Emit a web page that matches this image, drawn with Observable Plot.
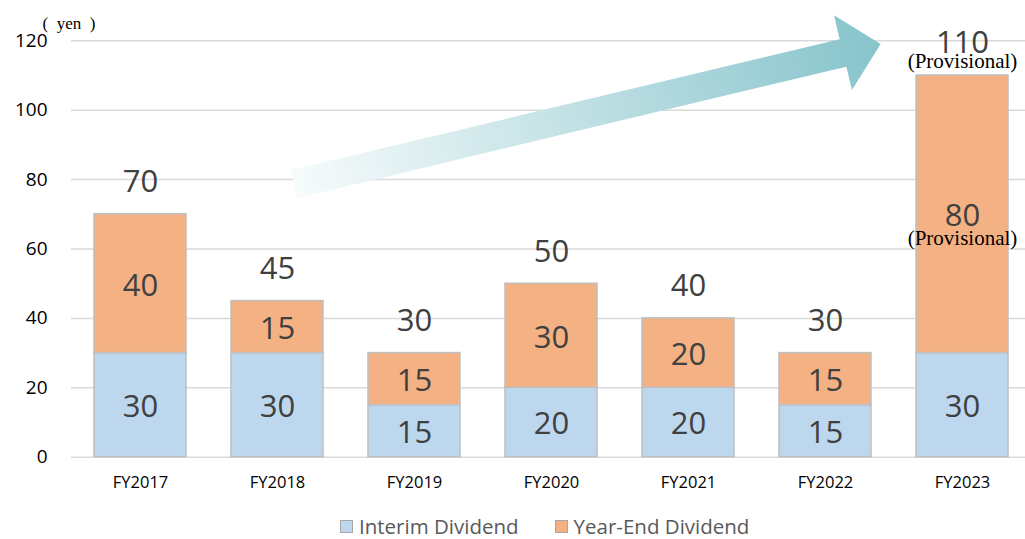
<!DOCTYPE html>
<html>
<head>
<meta charset="utf-8">
<script src="https://cdn.jsdelivr.net/npm/d3@7"></script>
<script src="https://cdn.jsdelivr.net/npm/@observablehq/plot@0.6"></script>
<style>
  body { margin: 0; background: #fff; }
  #wrap { position: relative; width: 1025px; height: 539px; overflow: hidden; }
  #legend { position: absolute; left: 340px; top: 514px; display: flex; align-items: center; line-height: 24px; height: 24px;
    font-family: "Open Sans", sans-serif; font-size: 20.5px; color: #595959; white-space: nowrap; }
  .sw { width: 13px; height: 13px; border: 1px solid #A6A6A6; box-sizing: border-box; margin-right: 6px; }
  .item { display: flex; align-items: center; margin-right: 36px; }
</style>
</head>
<body>
<div id="wrap"></div>
<script>
const years = ["FY2017", "FY2018", "FY2019", "FY2020", "FY2021", "FY2022", "FY2023"];
const interim = [30, 30, 15, 20, 20, 15, 30];
const yearEnd = [40, 15, 15, 30, 20, 15, 80];
const totals = [70, 45, 30, 50, 40, 30, 110];
const seriesNames = ["Interim Dividend", "Year-End Dividend"];
const seriesColors = ["#BDD7EE", "#F4B183"];
const yTicks = [0, 20, 40, 60, 80, 100, 120];
// decorative arrow outline in (band index, yen) units
const arrowPts = [[1.103, 82.6], [5.107, 120.3], [5.066, 127.2], [5.406, 118.9], [5.197, 105.7], [5.156, 112.4], [1.142, 74.5]];

const rows = [];
years.forEach((yr, i) => {
  rows.push({year: yr, series: seriesNames[0], y1: 0, y2: interim[i], mid: interim[i] / 2, v: interim[i]});
});
years.forEach((yr, i) => {
  rows.push({year: yr, series: seriesNames[1], y1: interim[i], y2: interim[i] + yearEnd[i], mid: interim[i] + yearEnd[i] / 2, v: yearEnd[i]});
});
const totRows = years.map((yr, i) => ({year: yr, total: totals[i]}));

const W = 1025, H = 510;
const plot = Plot.plot({
  width: W, height: H,
  marginLeft: 71, marginRight: 0, marginTop: 40.3, marginBottom: H - 456.7,
  style: {background: "transparent", overflow: "visible"},
  x: {domain: years, range: [70.7, 1031.3], paddingInner: 0.33, paddingOuter: 0.165, label: null},
  y: {domain: [0, 120], label: null},
  color: {domain: seriesNames, range: seriesColors},
  marks: [
    Plot.ruleY(yTicks, {stroke: "#D9D9D9", strokeWidth: 1.5}),
    Plot.axisY({ticks: yTicks, tickSize: 0, tickPadding: 24, fontSize: 19, fill: "#000",
      fontFamily: "Open Sans", label: null}),
    Plot.axisX({tickSize: 0, tickPadding: 19, fontSize: 16.5, fill: "#000", fontFamily: "Open Sans", label: null}),
    Plot.barY(rows, {x: "year", y1: "y1", y2: "y2", fill: "series", stroke: "#BFBFBF", strokeWidth: 1.5}),
    Plot.text(rows, {x: "year", y: "mid", text: d => String(d.v), fontSize: 31, fill: "#404040",
      fontFamily: "Open Sans", dy: 2}),
    Plot.text(totRows, {x: "year", y: "total", text: d => String(d.total), fontSize: 31, fill: "#404040",
      fontFamily: "Open Sans", dy: -32}),
    Plot.text([totRows[6]], {x: "year", y: "total", text: () => "(Provisional)", fontSize: 21, fill: "#000",
      fontFamily: "Liberation Serif", dy: -14}),
    Plot.text([rows[13]], {x: "year", y: "mid", text: () => "(Provisional)", fontSize: 21, fill: "#000",
      fontFamily: "Liberation Serif", dy: 24}),
    Plot.text(["(\u2002yen\u2002)"], {frameAnchor: "top-left", dx: -29, dy: -24, text: d => d, fontSize: 17,
      fontFamily: "Liberation Serif", fill: "#000", textAnchor: "start"})
  ]
});

// arrow annotation via the chart's own scales
const xs = plot.scale("x"), ys = plot.scale("y");
const c0 = xs.apply(years[0]) + xs.bandwidth / 2;
const step = xs.step;
const px = i => c0 + step * i;
const pts = arrowPts.map(([i, v]) => [px(i), ys.apply(v)]);
const svg = d3.select(plot);
const defs = svg.append("defs");
const grad = defs.append("linearGradient").attr("id", "arrowGrad").attr("gradientUnits", "userSpaceOnUse")
  .attr("x1", (pts[0][0] + pts[6][0]) / 2).attr("y1", (pts[0][1] + pts[6][1]) / 2)
  .attr("x2", pts[3][0]).attr("y2", pts[3][1]);
grad.append("stop").attr("offset", "0%").attr("stop-color", "#F7FBFC");
grad.append("stop").attr("offset", "100%").attr("stop-color", "#86C4CB");
svg.append("path").attr("d", "M" + pts.map(p => p.join(",")).join("L") + "Z").attr("fill", "url(#arrowGrad)");

const wrap = document.getElementById("wrap");
wrap.appendChild(plot);
const legend = document.createElement("div");
legend.id = "legend";
seriesNames.forEach((n, k) => {
  const it = document.createElement("div");
  it.className = "item";
  const sw = document.createElement("div");
  sw.className = "sw";
  sw.style.background = seriesColors[k];
  const t = document.createElement("span");
  t.textContent = n;
  it.appendChild(sw); it.appendChild(t);
  legend.appendChild(it);
});
wrap.appendChild(legend);
</script>
</body>
</html>
